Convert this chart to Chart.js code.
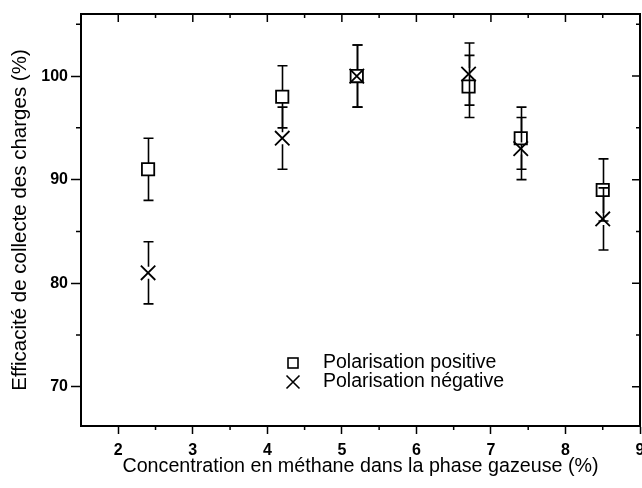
<!DOCTYPE html>
<html>
<head>
<meta charset="utf-8">
<script src="https://cdn.jsdelivr.net/npm/chart.js@4.4.1/dist/chart.umd.min.js"></script>
<style>
  html, body { margin: 0; padding: 0; background: #fff; overflow: hidden; }
  #wrap { width: 652px; height: 488px; }
</style>
</head>
<body>
<div id="wrap"><canvas id="chart"></canvas></div>
<script>
// methane concentration (%) and collection efficiency (%) with +/- errors
var concentrations = [2.4, 4.2, 5.2, 6.7, 7.4, 8.5];
var positive = [91, 98, 100, 99, 94, 89];
var positiveErr = [3, 3, 3, 3, 3, 3];
var negative = [81, 94, 100, 100.2, 93, 86.2];
var negativeErr = [3, 3, 3, 3, 3, 3];
var seriesLabels = ['Polarisation positive', 'Polarisation négative'];
var xTitle = 'Concentration en méthane dans la phase gazeuse (%)';
var yTitle = 'Efficacité de collecte des charges (%)';

var FONT = '"Liberation Sans", Arial, sans-serif';

function points(ys) {
    return concentrations.map(function(x, i) { return {x: x, y: ys[i]}; });
}

// vertical error bars with caps, gapped around each series' own marker
var errorBars = {
    id: 'errorBars',
    afterDatasetsDraw: function(chart) {
        var ctx = chart.ctx, xs = chart.scales.x, ys = chart.scales.y;
        var sets = [[positive, positiveErr, 6], [negative, negativeErr, 6]];
        ctx.save();
        ctx.strokeStyle = '#000';
        ctx.lineWidth = 1.6;
        sets.forEach(function(s) {
            s[0].forEach(function(v, i) {
                var px = Math.round(xs.getPixelForValue(concentrations[i])) + 0.5;
                var py = ys.getPixelForValue(v);
                var top = ys.getPixelForValue(v + s[1][i]);
                var bot = ys.getPixelForValue(v - s[1][i]);
                ctx.beginPath();
                ctx.moveTo(px, top); ctx.lineTo(px, py - s[2]);
                ctx.moveTo(px, py + s[2]); ctx.lineTo(px, bot);
                ctx.moveTo(px - 5, top); ctx.lineTo(px + 5, top);
                ctx.moveTo(px - 5, bot); ctx.lineTo(px + 5, bot);
                ctx.stroke();
            });
        });
        ctx.restore();
    }
};

// top/right frame lines, mirrored ticks and minor ticks
var frame = {
    id: 'frame',
    afterDraw: function(chart) {
        var ctx = chart.ctx, a = chart.chartArea, xs = chart.scales.x, ys = chart.scales.y;
        ctx.save();
        ctx.strokeStyle = '#000';
        ctx.lineWidth = 2;
        ctx.beginPath();
        ctx.moveTo(a.left, a.top); ctx.lineTo(a.right, a.top); ctx.lineTo(a.right, a.bottom);
        ctx.stroke();
        ctx.lineWidth = 1.5;
        ctx.beginPath();
        xs.ticks.forEach(function(t) {
            var p = xs.getPixelForValue(t.value);
            if (p <= a.left + 1 || p >= a.right - 1) return;
            var major = Number.isInteger(t.value);
            var len = major ? 8 : 4;
            ctx.moveTo(p, a.top); ctx.lineTo(p, a.top + len);
            if (!major) { ctx.moveTo(p, a.bottom); ctx.lineTo(p, a.bottom + 4); }
        });
        ys.ticks.forEach(function(t) {
            var p = ys.getPixelForValue(t.value);
            var major = t.value % 10 === 0;
            var len = major ? 8 : 4;
            ctx.moveTo(a.right, p); ctx.lineTo(a.right - len, p);
            if (!major) { ctx.moveTo(a.left, p); ctx.lineTo(a.left - 5, p); }
        });
        ctx.stroke();
        ctx.restore();
    }
};

// legend inside the plot area
var insideLegend = {
    id: 'insideLegend',
    afterDraw: function(chart) {
        var ctx = chart.ctx, a = chart.chartArea;
        var mx = a.left + 212, tx = a.left + 242;
        var rows = [a.top + 349, a.top + 368];
        ctx.save();
        ctx.strokeStyle = '#000';
        ctx.fillStyle = '#000';
        ctx.lineWidth = 1.6;
        ctx.strokeRect(mx - 5, rows[0] - 5, 10, 10);
        ctx.beginPath();
        ctx.moveTo(mx - 6.5, rows[1] - 6.5); ctx.lineTo(mx + 6.5, rows[1] + 6.5);
        ctx.moveTo(mx + 6.5, rows[1] - 6.5); ctx.lineTo(mx - 6.5, rows[1] + 6.5);
        ctx.stroke();
        ctx.font = '19.5px ' + FONT;
        ctx.textBaseline = 'middle';
        ctx.fillText(seriesLabels[0], tx, rows[0]);
        ctx.fillText(seriesLabels[1], tx, rows[1]);
        ctx.restore();
    }
};

var chart = new Chart(document.getElementById('chart'), {
    type: 'scatter',
    data: {
        datasets: [{
            label: seriesLabels[0],
            data: points(positive),
            pointStyle: 'rect',
            pointRadius: 8.7,
            pointHoverRadius: 8.7,
            borderColor: '#000',
            backgroundColor: 'rgba(0,0,0,0)',
            pointBorderWidth: 1.8
        }, {
            label: seriesLabels[1],
            data: points(negative),
            pointStyle: 'crossRot',
            pointRadius: 10.2,
            pointHoverRadius: 10.2,
            borderColor: '#000',
            backgroundColor: 'rgba(0,0,0,0)',
            pointBorderWidth: 1.8
        }]
    },
    options: {
        responsive: true,
        maintainAspectRatio: false,
        animation: false,
        layout: { padding: { top: 14, right: 8, left: 0, bottom: 0 } },
        plugins: {
            legend: { display: false },
            tooltip: { enabled: false }
        },
        scales: {
            x: {
                type: 'linear',
                min: 1.5,
                max: 9,
                afterFit: function(s) { s.height = 62; },
                border: { display: true, color: '#000', width: 2 },
                grid: {
                    drawOnChartArea: false,
                    tickLength: 8,
                    tickWidth: 1.5,
                    tickColor: function(c) {
                        return c.tick && Number.isInteger(c.tick.value) ? '#000' : 'rgba(0,0,0,0)';
                    }
                },
                ticks: {
                    stepSize: 0.5,
                    autoSkip: false,
                    maxRotation: 0,
                    padding: 7,
                    color: '#000',
                    font: { family: FONT, size: 16, weight: 'bold' },
                    callback: function(v) { return Number.isInteger(v) ? v : ''; }
                },
                title: {
                    display: true,
                    text: xTitle,
                    color: '#000',
                    font: { family: FONT, size: 19.7 },
                    padding: { top: 0, bottom: 10 }
                }
            },
            y: {
                type: 'linear',
                min: 66.2,
                max: 106,
                afterFit: function(s) { s.width = 81; },
                border: { display: true, color: '#000', width: 2 },
                grid: {
                    drawOnChartArea: false,
                    tickLength: 10,
                    tickWidth: 1.5,
                    tickColor: function(c) {
                        return c.tick && c.tick.value % 10 === 0 ? '#000' : 'rgba(0,0,0,0)';
                    }
                },
                ticks: {
                    stepSize: 5,
                    includeBounds: false,
                    padding: 3,
                    color: '#000',
                    font: { family: FONT, size: 16, weight: 'bold' },
                    callback: function(v) { return v % 10 === 0 ? v : ''; }
                },
                title: {
                    display: true,
                    text: yTitle,
                    color: '#000',
                    font: { family: FONT, size: 20.5 },
                    padding: { top: 8, bottom: 0 }
                }
            }
        }
    },
    plugins: [errorBars, frame, insideLegend]
});
</script>
</body>
</html>
